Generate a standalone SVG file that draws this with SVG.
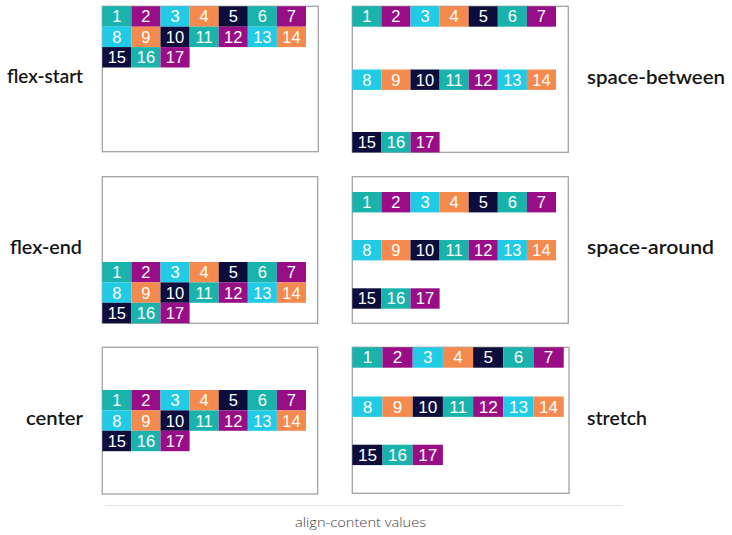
<svg xmlns="http://www.w3.org/2000/svg" xmlns:xlink="http://www.w3.org/1999/xlink" width="732" height="535" viewBox="0 0 732 535">
<style>
.box{fill:#fff;stroke:#a3a3a3;stroke-width:1.3}
.t{fill:#19b3ab}.p{fill:#990e87}.c{fill:#21cbe5}.o{fill:#f58a4e}.n{fill:#0d0d3d}
.num{font-family:"Liberation Sans",Arial,sans-serif;font-size:16.5px;fill:#fff;text-anchor:middle}
.lbl{font-family:"Lato","Noto Sans",sans-serif;font-weight:600;font-size:20px;fill:#151515}
.cap{font-family:"Open Sans","Noto Sans",sans-serif;font-weight:300;font-size:12.5px;fill:#444;text-anchor:middle}
</style>
<defs>
<g id="rowA">
<rect class="t" x="0" y="0" width="29.1" height="20.4"/><text class="num" x="14.55" y="16.2">1</text>
<rect class="p" x="29.1" y="0" width="29.1" height="20.4"/><text class="num" x="43.65" y="16.2">2</text>
<rect class="c" x="58.2" y="0" width="29.1" height="20.4"/><text class="num" x="72.75" y="16.2">3</text>
<rect class="o" x="87.3" y="0" width="29.1" height="20.4"/><text class="num" x="101.85" y="16.2">4</text>
<rect class="n" x="116.4" y="0" width="29.1" height="20.4"/><text class="num" x="130.95" y="16.2">5</text>
<rect class="t" x="145.5" y="0" width="29.1" height="20.4"/><text class="num" x="160.05" y="16.2">6</text>
<rect class="p" x="174.6" y="0" width="29.1" height="20.4"/><text class="num" x="189.15" y="16.2">7</text>
</g>
<g id="rowB">
<rect class="c" x="0" y="0" width="29.1" height="20.4"/><text class="num" x="14.55" y="16.2">8</text>
<rect class="o" x="29.1" y="0" width="29.1" height="20.4"/><text class="num" x="43.65" y="16.2">9</text>
<rect class="n" x="58.2" y="0" width="29.1" height="20.4"/><text class="num" x="72.75" y="16.2">10</text>
<rect class="t" x="87.3" y="0" width="29.1" height="20.4"/><text class="num" x="101.85" y="16.2">11</text>
<rect class="p" x="116.4" y="0" width="29.1" height="20.4"/><text class="num" x="130.95" y="16.2">12</text>
<rect class="c" x="145.5" y="0" width="29.1" height="20.4"/><text class="num" x="160.05" y="16.2">13</text>
<rect class="o" x="174.6" y="0" width="29.1" height="20.4"/><text class="num" x="189.15" y="16.2">14</text>
</g>
<g id="rowC">
<rect class="n" x="0" y="0" width="29.1" height="20.4"/><text class="num" x="14.55" y="16.2">15</text>
<rect class="t" x="29.1" y="0" width="29.1" height="20.4"/><text class="num" x="43.65" y="16.2">16</text>
<rect class="p" x="58.2" y="0" width="29.1" height="20.4"/><text class="num" x="72.75" y="16.2">17</text>
</g>
</defs>

<g id="flex-start">
<rect class="box" x="102.3" y="6.3" width="216" height="145.4"/>
<use xlink:href="#rowA" x="102.3" y="6.3"/>
<use xlink:href="#rowB" x="102.3" y="26.7"/>
<use xlink:href="#rowC" x="102.3" y="47.1"/>
<text class="lbl" x="7" y="83" textLength="76" lengthAdjust="spacingAndGlyphs">flex-start</text>
</g>

<g id="space-between">
<rect class="box" x="352.3" y="6.3" width="216" height="146"/>
<use xlink:href="#rowA" x="352.3" y="6.3"/>
<use xlink:href="#rowB" x="352.3" y="69.5"/>
<use xlink:href="#rowC" x="352.3" y="132"/>
<text class="lbl" x="587" y="84" textLength="138" lengthAdjust="spacingAndGlyphs">space-between</text>
</g>

<g id="flex-end">
<rect class="box" x="102.3" y="176.7" width="215.4" height="146.6"/>
<use xlink:href="#rowA" x="102.3" y="262"/>
<use xlink:href="#rowB" x="102.3" y="282.4"/>
<use xlink:href="#rowC" x="102.3" y="302.8"/>
<text class="lbl" x="10" y="254" textLength="72" lengthAdjust="spacingAndGlyphs">flex-end</text>
</g>

<g id="space-around">
<rect class="box" x="352.3" y="176.7" width="216" height="146.6"/>
<use xlink:href="#rowA" x="352.3" y="192"/>
<use xlink:href="#rowB" x="352.3" y="240"/>
<use xlink:href="#rowC" x="352.3" y="288.3"/>
<text class="lbl" x="587" y="254" textLength="127" lengthAdjust="spacingAndGlyphs">space-around</text>
</g>

<g id="center">
<rect class="box" x="102.3" y="347.3" width="215.4" height="146.7"/>
<use xlink:href="#rowA" x="102.3" y="390"/>
<use xlink:href="#rowB" x="102.3" y="410.4"/>
<use xlink:href="#rowC" x="102.3" y="430.8"/>
<text class="lbl" x="26" y="424.5" textLength="57" lengthAdjust="spacingAndGlyphs">center</text>
</g>

<g id="stretch">
<rect class="box" x="352.3" y="347.3" width="216.7" height="146"/>
<g transform="translate(352.3 0) scale(1.038 1)">
<use xlink:href="#rowA" x="0" y="347.3"/>
<use xlink:href="#rowB" x="0" y="396.5"/>
<use xlink:href="#rowC" x="0" y="444.7"/>
</g>
<text class="lbl" x="587" y="424.5" textLength="60" lengthAdjust="spacingAndGlyphs">stretch</text>
</g>

<g id="caption">
<line x1="105" y1="505.5" x2="623" y2="505.5" stroke="#e2e2e2" stroke-width="1.2"/>
<text class="cap" x="360.5" y="527" textLength="131" lengthAdjust="spacingAndGlyphs">align-content values</text>
</g>
</svg>
